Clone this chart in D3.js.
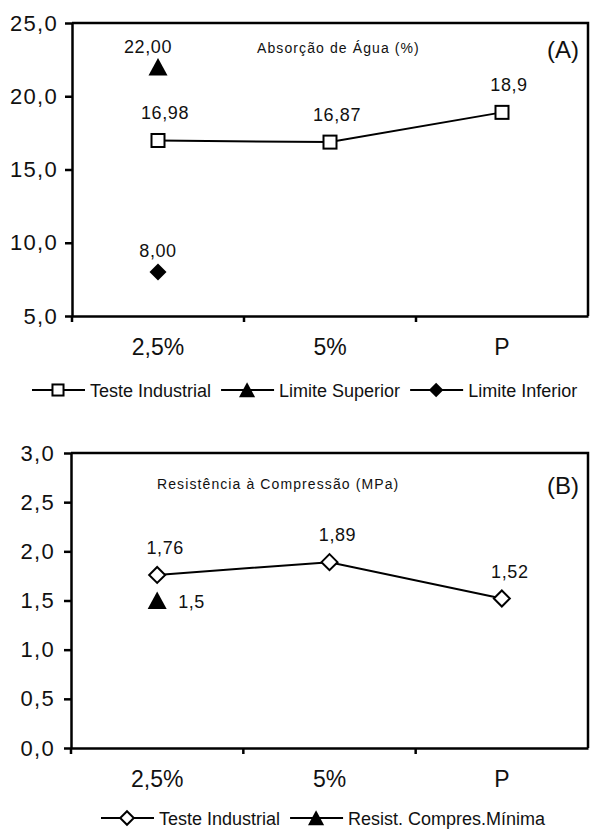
<!DOCTYPE html>
<html>
<head>
<meta charset="utf-8">
<script src="https://cdn.jsdelivr.net/npm/d3@7"></script>
<style>
  body { margin: 0; background: #fff; }
  svg { display: block; font-family: "Liberation Sans", Arial, sans-serif; }
</style>
</head>
<body>
<div id="host"><svg></svg></div>
<script>
const WIDTH = 590;
const HEIGHT = 829;

// data
const CATEGORIES = ["2,5%", "5%", "P"];

const ABS_TESTE = [16.98, 16.87, 18.9];
const ABS_TESTE_LABELS = ["16,98", "16,87", "18,9"];
const ABS_SUPERIOR = [22.0];
const ABS_SUPERIOR_LABELS = ["22,00"];
const ABS_INFERIOR = [8.0];
const ABS_INFERIOR_LABELS = ["8,00"];
const ABS_TICKS = [5, 10, 15, 20, 25];

const RES_TESTE = [1.76, 1.89, 1.52];
const RES_TESTE_LABELS = ["1,76", "1,89", "1,52"];
const RES_MINIMA = [1.5];
const RES_MINIMA_LABELS = ["1,5"];
const RES_TICKS = [0, 0.5, 1, 1.5, 2, 2.5, 3];

const LEGEND_A = ["Teste Industrial", "Limite Superior", "Limite Inferior"];
const LEGEND_B = ["Teste Industrial", "Resist. Compres.Mínima"];

const fmt1 = (d) => d3.format(".1f")(d).replace(".", ",");

const svg = d3.select("#host svg").attr("width", WIDTH).attr("height", HEIGHT);

function marker(g, type, x, y, s = 1) {
  if (type === "square") {
    g.append("rect")
      .attr("x", x - 6.5 * s).attr("y", y - 6.5 * s)
      .attr("width", 13 * s).attr("height", 13 * s)
      .attr("fill", "#fff").attr("stroke", "#000").attr("stroke-width", 2);
  } else if (type === "triangle") {
    g.append("path")
      .attr("d", `M${x},${y - 9 * s}L${x + 9.5 * s},${y + 8.5 * s}L${x - 9.5 * s},${y + 8.5 * s}Z`)
      .attr("fill", "#000");
  } else if (type === "diamond") {
    g.append("path")
      .attr("d", `M${x},${y - 8.5 * s}L${x + 8.5 * s},${y}L${x},${y + 8.5 * s}L${x - 8.5 * s},${y}Z`)
      .attr("fill", "#000");
  } else if (type === "odiamond") {
    g.append("path")
      .attr("d", `M${x},${y - 8 * s}L${x + 8 * s},${y}L${x},${y + 8 * s}L${x - 8 * s},${y}Z`)
      .attr("fill", "#fff").attr("stroke", "#000").attr("stroke-width", 2);
  }
}

function panel(opts) {
  const { left, right, top, bottom, domain, ticks } = opts;
  const g = svg.append("g");

  const x = d3.scaleBand().domain(CATEGORIES).range([left, right]);
  const y = d3.scaleLinear().domain(domain).range([bottom, top]);

  // y axis
  g.append("g")
    .attr("transform", `translate(${left},0)`)
    .call(d3.axisLeft(y).tickValues(ticks).tickFormat(fmt1).tickSize(7).tickSizeOuter(0).tickPadding(opts.tickPad))
    .call((a) => a.select(".domain").attr("stroke-width", 2.5))
    .call((a) => a.selectAll(".tick line").attr("stroke-width", 2.5))
    .call((a) => a.selectAll("text")
      .attr("font-size", 22).attr("letter-spacing", 1.3).attr("fill", "#111")
      .attr("font-family", "Liberation Sans, Arial"));

  // x axis labels
  g.append("g")
    .attr("transform", `translate(0,${bottom})`)
    .call(d3.axisBottom(x).tickSize(0).tickPadding(22.5))
    .call((a) => a.select(".domain").attr("stroke-width", 2.5))
    .call((a) => a.selectAll("text").attr("font-size", 23).attr("fill", "#111").attr("font-family", "Liberation Sans, Arial"));

  // x boundary ticks
  g.append("g")
    .selectAll("line")
    .data(CATEGORIES.slice(0, -1))
    .join("line")
    .attr("x1", (d) => x(d) + x.bandwidth())
    .attr("x2", (d) => x(d) + x.bandwidth())
    .attr("y1", bottom)
    .attr("y2", bottom + 6)
    .attr("stroke", "#000")
    .attr("stroke-width", 2.5);
  g.append("line")
    .attr("x1", left).attr("x2", left)
    .attr("y1", bottom).attr("y2", bottom + 6)
    .attr("stroke", "#000").attr("stroke-width", 2.5);

  // top & right frame
  g.append("path")
    .attr("d", `M${left},${top}H${right}V${bottom}`)
    .attr("fill", "none")
    .attr("stroke", "#000")
    .attr("stroke-width", 2.5);

  // title + letter
  g.append("text")
    .attr("x", opts.titleX).attr("y", opts.titleY)
    .attr("font-size", 14).attr("letter-spacing", 1.1).attr("fill", "#111")
    .text(opts.title);
  g.append("text")
    .attr("x", right - 9).attr("y", opts.letterY)
    .attr("text-anchor", "end")
    .attr("font-size", 24).attr("fill", "#111")
    .text(opts.letter);

  // series
  opts.series.forEach((s) => {
    const pts = s.values.map((v, i) => [x(CATEGORIES[i]) + x.bandwidth() / 2, y(v)]);
    if (pts.length > 1) {
      g.append("path")
        .attr("d", d3.line()(pts))
        .attr("fill", "none")
        .attr("stroke", "#000")
        .attr("stroke-width", 2);
    }
    pts.forEach((p, i) => {
      marker(g, s.marker, p[0], p[1]);
      const lab = g.append("text")
        .attr("font-size", 18)
        .attr("fill", "#111")
        .attr("letter-spacing", 0.6)
        .text(s.labels[i]);
      if (s.labelSide === "right") {
        lab.attr("x", p[0] + 21).attr("y", p[1] + 7);
      } else {
        lab.attr("x", p[0] + s.ldx).attr("y", p[1] + s.ldy).attr("text-anchor", "middle");
      }
    });
  });

  // legend
  const lg = g.append("g");
  let cx = opts.legendX;
  opts.series.forEach((s) => {
    lg.append("line")
      .attr("x1", cx).attr("x2", cx + 53)
      .attr("y1", opts.legendY).attr("y2", opts.legendY)
      .attr("stroke", "#000").attr("stroke-width", 2);
    marker(lg, s.marker, cx + 26, opts.legendY, 0.85);
    const t = lg.append("text")
      .attr("x", cx + 58).attr("y", opts.legendY + 7)
      .attr("font-size", 18).attr("fill", "#111")
      .text(s.name);
    cx += 58 + t.node().getComputedTextLength() + 10;
  });
}

panel({
  left: 72, right: 588, top: 23, bottom: 316,
  domain: [5, 25], ticks: ABS_TICKS, tickPad: 7,
  title: "Absorção de Água (%)", titleX: 257, titleY: 53,
  letter: "(A)", letterY: 58,
  legendX: 32, legendY: 390,
  series: [
    { name: LEGEND_A[0], values: ABS_TESTE, labels: ABS_TESTE_LABELS, marker: "square", ldx: 7, ldy: -21 },
    { name: LEGEND_A[1], values: ABS_SUPERIOR, labels: ABS_SUPERIOR_LABELS, marker: "triangle", ldx: -10, ldy: -14 },
    { name: LEGEND_A[2], values: ABS_INFERIOR, labels: ABS_INFERIOR_LABELS, marker: "diamond", ldx: 0, ldy: -15 },
  ],
});

panel({
  left: 71, right: 588, top: 453, bottom: 748,
  domain: [0, 3], ticks: RES_TICKS, tickPad: 9,
  title: "Resistência à Compressão (MPa)", titleX: 157, titleY: 489,
  letter: "(B)", letterY: 494,
  legendX: 101, legendY: 818,
  series: [
    { name: LEGEND_B[0], values: RES_TESTE, labels: RES_TESTE_LABELS, marker: "odiamond", ldx: 8, ldy: -21 },
    { name: LEGEND_B[1], values: RES_MINIMA, labels: RES_MINIMA_LABELS, marker: "triangle", labelSide: "right" },
  ],
});
</script>
</body>
</html>
